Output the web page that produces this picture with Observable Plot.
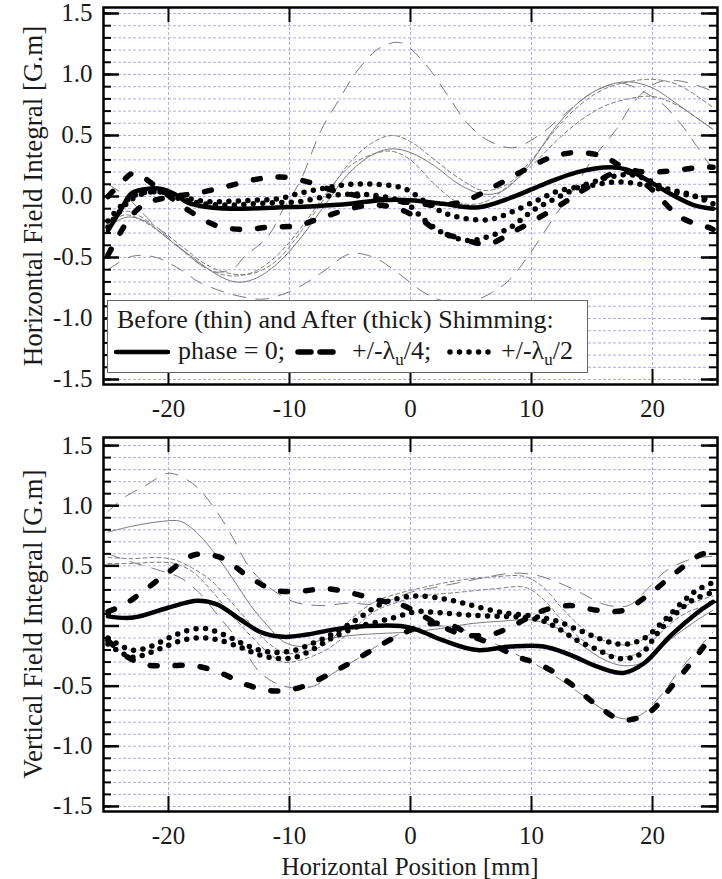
<!DOCTYPE html>
<html><head><meta charset="utf-8">
<script src="https://cdn.jsdelivr.net/npm/d3@7"></script>
<script src="https://cdn.jsdelivr.net/npm/@observablehq/plot@0.6"></script>
<style>
body{margin:0;background:#fff;}
#wrap{position:relative;width:722px;height:879px;font-family:"Liberation Serif","Times New Roman",serif;color:#1a1a1a;overflow:hidden;}
.panel{position:absolute;left:0;}
.ytitle{position:absolute;font-size:27px;white-space:nowrap;transform:translate(-50%,-50%) rotate(-90deg);line-height:1;}
.xtitle{position:absolute;left:410px;top:866px;font-size:25px;white-space:nowrap;transform:translate(-50%,-50%);line-height:1;}
#legend{position:absolute;left:107px;top:300px;width:481px;height:73px;box-sizing:border-box;border:1.5px solid #666;background:#fff;}
</style></head>
<body>
<div id="wrap">
  <div id="top" class="panel" style="top:0"></div>
  <div id="bot" class="panel" style="top:420px"></div>
  <div class="ytitle" style="left:33px;top:196px">Horizontal Field Integral [G.m]</div>
  <div class="ytitle" style="left:33px;top:624px">Vertical Field Integral [G.m]</div>
  <div class="xtitle">Horizontal Position [mm]</div>
  <div id="legend"></div>
</div>
<script>
// ---------- axes ----------
const xTicks = [-20, -10, 0, 10, 20];
const yMajor = [-1.5, -1.0, -0.5, 0.0, 0.5, 1.0, 1.5];
const yMinor = [-1.5,-1.4,-1.3,-1.2,-1.1,-1.0,-0.9,-0.8,-0.7,-0.6,-0.5,-0.4,-0.3,-0.2,-0.1,0,
                0.1,0.2,0.3,0.4,0.5,0.6,0.7,0.8,0.9,1.0,1.1,1.2,1.3,1.4,1.5];
const xDomain = [-25.37, 25.37];

// ---------- Horizontal field integral (top) ----------
const hThinSolid = [[-25,-0.25],[-23.5,-0.17],[-22,-0.2],[-20,-0.35],[-18,-0.5],[-16,-0.64],[-14.5,-0.7],[-13,-0.68],[-11,-0.55],[-9,-0.33],[-7,-0.06],[-5,0.2],[-3,0.35],[-1.5,0.39],[0,0.36],[2,0.25],[4,0.1],[6,0.02],[7.5,0.04],[9.5,0.22],[12,0.57],[14,0.78],[16,0.9],[18,0.94],[20,0.89],[22,0.76],[24,0.62],[25,0.55]];
const hThinLongA = [[-25,0.1],[-23.5,0.0],[-21.5,-0.2],[-19.5,-0.38],[-17.5,-0.55],[-16,-0.62],[-14.5,-0.58],[-13.8,-0.5],[-11.8,-0.33],[-10.5,-0.1],[-9.1,0.13],[-7.4,0.54],[-5.8,0.81],[-4.4,1.03],[-2.5,1.22],[-0.8,1.26],[1.1,1.1],[3.2,0.81],[4.6,0.61],[6.4,0.46],[8.5,0.4],[10.6,0.5],[12.8,0.68],[15,0.85],[17.3,0.93],[19,0.87],[20.7,0.77],[22.3,0.6],[23.6,0.42],[25,0.22]];
const hThinLongB = [[-25,-0.6],[-23,-0.49],[-21,-0.5],[-19,-0.6],[-17.5,-0.7],[-15.5,-0.78],[-13.5,-0.83],[-12,-0.84],[-10,-0.78],[-8.5,-0.7],[-7,-0.6],[-5,-0.47],[-3,-0.5],[-1,-0.63],[1,-0.78],[2.5,-0.85],[4.5,-0.88],[6.5,-0.8],[8,-0.7],[9.5,-0.52],[11,-0.3],[12,-0.15],[13.3,0.03],[15,0.3],[17,0.55],[18.5,0.78],[20.3,0.93],[22,0.95],[24,0.9],[25,0.86]];
const hThinShortA = [[-25,-0.2],[-23.5,-0.12],[-21,-0.25],[-19,-0.4],[-17,-0.55],[-15,-0.63],[-13,-0.63],[-11,-0.52],[-9,-0.28],[-7,0.0],[-5,0.28],[-3,0.45],[-1.5,0.5],[0,0.45],[2,0.3],[4,0.15],[6,0.05],[8,0.1],[10,0.3],[12,0.55],[14,0.75],[16,0.88],[18,0.94],[20,0.96],[22,0.92],[24,0.8],[25,0.73]];
const hThinShortB = [[-25,-0.22],[-23.5,-0.15],[-21,-0.27],[-19,-0.43],[-17,-0.58],[-15,-0.65],[-13,-0.62],[-11,-0.48],[-9,-0.25],[-7,0.02],[-5,0.25],[-3,0.35],[-1.5,0.37],[0,0.3],[2,0.1],[4,-0.05],[6,-0.05],[8,0.08],[10,0.25],[12,0.45],[14,0.62],[16,0.74],[18,0.8],[20,0.82],[22,0.75],[24,0.62],[25,0.55]];
const hThickSolid = [[-25,-0.28],[-24,-0.12],[-23,0.03],[-21.5,0.065],[-20.5,0.06],[-19.5,0.02],[-18.4,-0.05],[-16.5,-0.09],[-14,-0.1],[-11,-0.09],[-8,-0.08],[-5,-0.06],[-2.5,-0.03],[0,-0.03],[2.7,-0.06],[5.5,-0.09],[8.3,-0.01],[11,0.1],[13.8,0.2],[16.5,0.24],[17.9,0.22],[19.3,0.15],[21.5,0.02],[23.4,-0.07],[25,-0.1]];
const hThickDashA = [[-25,-0.48],[-24,-0.3],[-23,-0.15],[-21.7,-0.05],[-19.5,0.0],[-17.5,0.03],[-15.3,0.08],[-12.8,0.14],[-10.7,0.16],[-8.5,0.12],[-6.4,0.05],[-4,0.0],[-2,-0.03],[0,-0.05],[2,-0.07],[3.5,-0.06],[4.7,-0.03],[6.9,0.08],[9.1,0.2],[11.6,0.32],[13.6,0.36],[15.9,0.33],[17.6,0.24],[19.3,0.2],[21.5,0.21],[24,0.24],[25,0.24]];
const hThickDashB = [[-25,0.0],[-24,0.1],[-22.9,0.19],[-21,0.08],[-18.4,-0.11],[-16,-0.24],[-13.8,-0.27],[-11.6,-0.25],[-9.4,-0.24],[-7.2,-0.17],[-5,-0.1],[-3,-0.07],[-1,-0.1],[1,-0.2],[2.2,-0.28],[4,-0.34],[6.4,-0.39],[8.3,-0.3],[10.5,-0.18],[12.7,-0.05],[14.9,0.09],[17.6,0.21],[19.8,0.07],[22.3,-0.17],[24.8,-0.26],[25,-0.27]];
const hThickDotA = [[-25,-0.2],[-23,0.0],[-21,0.04],[-19,0.0],[-17,-0.04],[-15,-0.04],[-13,-0.03],[-11,-0.02],[-9,0.03],[-7,0.07],[-5,0.1],[-3,0.1],[-1,0.08],[0,0.04],[1,-0.03],[2.7,-0.13],[4.5,-0.18],[6.5,-0.19],[8.3,-0.13],[10.5,-0.03],[12.4,0.05],[14.9,0.09],[17,0.12],[19,0.1],[21,0.05],[23,0.01],[25,-0.03]];
const hThickDotB = [[-25,-0.25],[-23,-0.02],[-21,0.04],[-19,-0.02],[-17,-0.06],[-15,-0.07],[-13,-0.06],[-11,-0.05],[-9,-0.04],[-7,0.0],[-5,0.02],[-3,0.01],[-1,-0.03],[0,-0.08],[1,-0.18],[2.7,-0.3],[4.7,-0.36],[6.4,-0.33],[8.3,-0.25],[10.2,-0.11],[12.1,-0.01],[14,0.08],[16.5,0.16],[18,0.18],[19.3,0.15],[21,0.07],[23,0.02],[25,-0.06]];

// ---------- Vertical field integral (bottom) ----------
const vThinSolid = [[-25,0.78],[-23,0.83],[-20.5,0.87],[-19,0.87],[-17.5,0.76],[-16,0.58],[-14.6,0.38],[-13.2,0.17],[-11.8,0.0],[-10.5,-0.13],[-9,-0.17],[-7.5,-0.12],[-5,-0.08],[-2,-0.06],[0,-0.05],[2.5,-0.02],[5,0.02],[7.5,0.04],[10,0.05],[12.4,-0.03],[14.3,-0.17],[16,-0.28],[17.6,-0.33],[19.3,-0.3],[21.5,-0.11],[23.7,0.05],[25,0.13]];
const vThinLongA = [[-25,0.95],[-23.5,1.08],[-22,1.16],[-20,1.27],[-18.4,1.21],[-17.4,1.13],[-16,0.95],[-14.6,0.72],[-13.4,0.5],[-11.8,0.33],[-9.6,0.2],[-7.5,0.17],[-5,0.19],[-3,0.18],[-1.5,0.22],[0,0.28],[2,0.32],[4,0.36],[6,0.4],[8.5,0.44],[10.5,0.42],[12,0.37],[14,0.28],[16,0.18],[18,0.17],[19.5,0.3],[21,0.45],[23,0.55],[25,0.58]];
const vThinLongB = [[-25,0.6],[-23,0.53],[-21,0.47],[-19,0.4],[-17.5,0.28],[-16,0.1],[-14,-0.15],[-12.5,-0.38],[-10.5,-0.5],[-8,-0.5],[-6.5,-0.4],[-4.5,-0.28],[-2.5,-0.15],[-0.5,-0.05],[2,0.0],[4,-0.02],[6,-0.1],[8,-0.2],[10,-0.3],[12,-0.42],[14,-0.56],[16,-0.7],[17.5,-0.77],[19,-0.74],[20.5,-0.6],[22,-0.4],[23.5,-0.22],[25,-0.05]];
const vThinShortA = [[-25,0.57],[-23,0.56],[-21,0.57],[-19.5,0.55],[-18,0.48],[-16.5,0.38],[-15,0.22],[-13.5,0.05],[-12,-0.12],[-10.5,-0.22],[-9,-0.22],[-7,-0.15],[-5,0.05],[-3,0.2],[-1,0.27],[1,0.32],[4,0.38],[7,0.41],[9.5,0.41],[11,0.32],[12.5,0.15],[14,0.0],[15.5,-0.1],[17,-0.15],[18.5,-0.15],[20,-0.05],[21.5,0.08],[23,0.18],[25,0.25]];
const vThinShortB = [[-25,0.52],[-23,0.52],[-21,0.53],[-19.5,0.52],[-18,0.45],[-16.5,0.3],[-15,0.12],[-13.5,-0.05],[-12,-0.2],[-10.5,-0.3],[-9,-0.28],[-7,-0.2],[-5,-0.05],[-3,0.12],[-1,0.2],[1,0.25],[4,0.28],[7,0.31],[9.5,0.32],[11,0.22],[12.5,0.05],[14,-0.1],[15.5,-0.2],[17,-0.25],[18.5,-0.24],[20,-0.12],[21.5,0.02],[23,0.12],[25,0.18]];
const vThickSolid = [[-25,0.08],[-22.9,0.07],[-20.1,0.15],[-17.6,0.21],[-16,0.18],[-14,0.05],[-12.4,-0.05],[-10.5,-0.09],[-8.5,-0.07],[-6.4,-0.03],[-3.6,0.0],[-0.8,0.0],[0.5,-0.03],[2.7,-0.12],[5.5,-0.2],[8.3,-0.17],[11,-0.17],[13.2,-0.24],[15.5,-0.34],[17.6,-0.39],[19.3,-0.31],[21.5,-0.08],[23.7,0.11],[25,0.2]];
const vThickDashA = [[-25,0.12],[-23.8,0.17],[-22.6,0.25],[-20.1,0.44],[-17.9,0.59],[-15.7,0.57],[-13.5,0.42],[-11.3,0.3],[-9.1,0.29],[-6.9,0.31],[-4.7,0.27],[-2.5,0.21],[-0.6,0.17],[2,0.03],[4.3,-0.07],[6.7,-0.07],[8.8,0.02],[11,0.13],[13.2,0.17],[15.5,0.13],[17.6,0.13],[19.8,0.27],[22,0.45],[24.2,0.6],[25,0.58]];
const vThickDashB = [[-25,-0.12],[-23.5,-0.25],[-22,-0.32],[-20.1,-0.33],[-17.9,-0.33],[-15.7,-0.39],[-13.5,-0.49],[-11.3,-0.54],[-9.1,-0.51],[-6.9,-0.41],[-4.7,-0.29],[-2.5,-0.16],[-0.6,-0.06],[1.5,0.02],[3.5,0.0],[5,-0.08],[6.7,-0.15],[8.7,-0.25],[10.9,-0.33],[13.1,-0.47],[15.3,-0.65],[17.5,-0.78],[19.7,-0.72],[21.6,-0.5],[23.4,-0.28],[25,-0.07]];
const vThickDotA = [[-25,-0.1],[-23,-0.2],[-21.5,-0.17],[-20,-0.1],[-18.5,-0.04],[-17,-0.02],[-15.7,-0.06],[-14,-0.14],[-12.5,-0.2],[-11,-0.22],[-9.5,-0.2],[-8,-0.14],[-6.5,-0.07],[-4.5,0.05],[-2.5,0.18],[-1,0.23],[0.5,0.25],[2.5,0.23],[4,0.2],[5.5,0.16],[7.7,0.11],[10.2,0.08],[12.1,0.04],[13.8,-0.03],[15.5,-0.1],[17.1,-0.15],[18.4,-0.14],[19.5,-0.09],[20.9,0.04],[22.6,0.21],[23.7,0.3],[25,0.36]];
const vThickDotB = [[-25,-0.15],[-23,-0.26],[-21.5,-0.22],[-20,-0.16],[-18.5,-0.11],[-17,-0.1],[-15.7,-0.12],[-14,-0.18],[-12.5,-0.24],[-11,-0.27],[-9.5,-0.26],[-8,-0.19],[-6.5,-0.1],[-4.5,-0.01],[-2.5,0.04],[-1,0.08],[0.5,0.12],[2.5,0.11],[5,0.09],[7.5,0.08],[9.5,0.07],[11,0.04],[12.2,-0.02],[13.8,-0.12],[15.5,-0.2],[17.1,-0.27],[18.4,-0.26],[19.3,-0.21],[20.4,-0.06],[22,0.11],[23.4,0.22],[25,0.28]];

// ---------- styles ----------
const GREY = "#7a7a7a";
const sThinSolid = {stroke: GREY, strokeWidth: 1};
const sThinLong  = {stroke: GREY, strokeWidth: 1, strokeDasharray: "13,10"};
const sThinShort = {stroke: GREY, strokeWidth: 1, strokeDasharray: "4,3"};
const sThickSolid = {stroke: "#000", strokeWidth: 4.5, strokeLinecap: "round"};
const sThickDash  = {stroke: "#000", strokeWidth: 5.5, strokeDasharray: "7,18", strokeLinecap: "round"};
const sThickDot   = {stroke: "#000", strokeWidth: 5.5, strokeDasharray: "0,9.5", strokeLinecap: "round"};

function line(data, style) {
  return Plot.line(data, {x: d => d[0], y: d => d[1], curve: "catmull-rom", ...style});
}

function panel({height, marginTop, marginBottom, yDomain, thin, thick}) {
  const W = 722, ml = 103, mr = 5;
  const fw = W - ml - mr;
  const fh = height - marginTop - marginBottom;
  return Plot.plot({
    width: W, height, marginLeft: ml, marginRight: mr, marginTop, marginBottom,
    x: {domain: xDomain, ticks: xTicks, tickFormat: d => String(d), tickSize: 0, tickPadding: 15, label: null},
    y: {domain: yDomain, ticks: yMajor, tickFormat: d => d.toFixed(1), tickSize: 0, tickPadding: 11, label: null},
    style: {fontFamily: "'Liberation Serif', 'Times New Roman', serif", fontSize: "25px", color: "#1a1a1a", background: "white", overflow: "visible"},
    marks: [
      Plot.gridY(yMinor, {stroke: "#a4a4ec", strokeOpacity: 1, strokeWidth: 0.9, strokeDasharray: "3,2"}),
      Plot.gridX(xTicks, {stroke: "#a4a4ec", strokeOpacity: 1, strokeWidth: 0.9, strokeDasharray: "3,2"}),
      line(thin[0], sThinSolid),
      line(thin[1], sThinLong),
      line(thin[2], sThinLong),
      line(thin[3], sThinShort),
      line(thin[4], sThinShort),
      line(thick[0], sThickSolid),
      line(thick[1], sThickDash),
      line(thick[2], sThickDash),
      line(thick[3], sThickDot),
      line(thick[4], sThickDot),
      // inward ticks
      Plot.tickY(yMinor, {y: d => d, insetRight: fw - 8, stroke: "#000", strokeWidth: 2}),
      Plot.tickY(yMajor, {y: d => d, insetRight: fw - 16, stroke: "#000", strokeWidth: 2.5}),
      Plot.tickY(yMinor, {y: d => d, insetLeft: fw - 8, stroke: "#000", strokeWidth: 2}),
      Plot.tickY(yMajor, {y: d => d, insetLeft: fw - 16, stroke: "#000", strokeWidth: 2.5}),
      Plot.tickX(xTicks, {x: d => d, insetBottom: fh - 15, stroke: "#000", strokeWidth: 2}),
      Plot.tickX(xTicks, {x: d => d, insetTop: fh - 15, stroke: "#000", strokeWidth: 2}),
      Plot.frame({stroke: "#000", strokeWidth: 2.5})
    ]
  });
}

document.getElementById("top").appendChild(panel({
  height: 420, marginTop: 7, marginBottom: 36, yDomain: [-1.541, 1.549],
  thin: [hThinSolid, hThinLongA, hThinLongB, hThinShortA, hThinShortB],
  thick: [hThickSolid, hThickDashA, hThickDashB, hThickDotA, hThickDotB]
}));
document.getElementById("bot").appendChild(panel({
  height: 459, marginTop: 17, marginBottom: 68, yDomain: [-1.542, 1.567],
  thin: [vThinSolid, vThinLongA, vThinLongB, vThinShortA, vThinShortB],
  thick: [vThickSolid, vThickDashA, vThickDashB, vThickDotA, vThickDotB]
}));

// ---------- legend ----------
const legendTitle = "Before (thin) and After (thick) Shimming:";
const legendItems = [
  {label: "phase = 0;", style: sThickSolid, x0: 8, x1: 60, tx: 70, sub: null},
  {label: "+/-λ", sub: "u", after: "/4;", style: {...sThickDash, strokeDasharray: "13,9"}, x0: 190, x1: 232, tx: 244},
  {label: "+/-λ", sub: "u", after: "/2", style: sThickDot, x0: 342, x1: 386, tx: 393}
];
const ns = "http://www.w3.org/2000/svg";
const lsvg = document.createElementNS(ns, "svg");
lsvg.setAttribute("width", 478); lsvg.setAttribute("height", 70);
lsvg.style.fontFamily = "'Liberation Serif','Times New Roman',serif";
lsvg.style.fontSize = "26px";
const t0 = document.createElementNS(ns, "text");
t0.setAttribute("x", 9); t0.setAttribute("y", 27); t0.setAttribute("fill", "#1a1a1a");
t0.textContent = legendTitle; lsvg.appendChild(t0);
for (const it of legendItems) {
  const l = document.createElementNS(ns, "line");
  l.setAttribute("x1", it.x0); l.setAttribute("x2", it.x1);
  l.setAttribute("y1", 51); l.setAttribute("y2", 51);
  l.setAttribute("stroke", "#000");
  l.setAttribute("stroke-width", it.style.strokeWidth);
  if (it.style.strokeDasharray) l.setAttribute("stroke-dasharray", it.style.strokeDasharray);
  l.setAttribute("stroke-linecap", it.style.strokeLinecap || "butt");
  lsvg.appendChild(l);
  const t = document.createElementNS(ns, "text");
  t.setAttribute("x", it.tx); t.setAttribute("y", 58); t.setAttribute("fill", "#1a1a1a");
  t.appendChild(document.createTextNode(it.label));
  if (it.sub) {
    const s = document.createElementNS(ns, "tspan");
    s.setAttribute("dy", 6); s.setAttribute("font-size", 17); s.textContent = it.sub;
    t.appendChild(s);
    const a = document.createElementNS(ns, "tspan");
    a.setAttribute("dy", -6); a.textContent = it.after;
    t.appendChild(a);
  }
  lsvg.appendChild(t);
}
document.getElementById("legend").appendChild(lsvg);
</script>
</body></html>
